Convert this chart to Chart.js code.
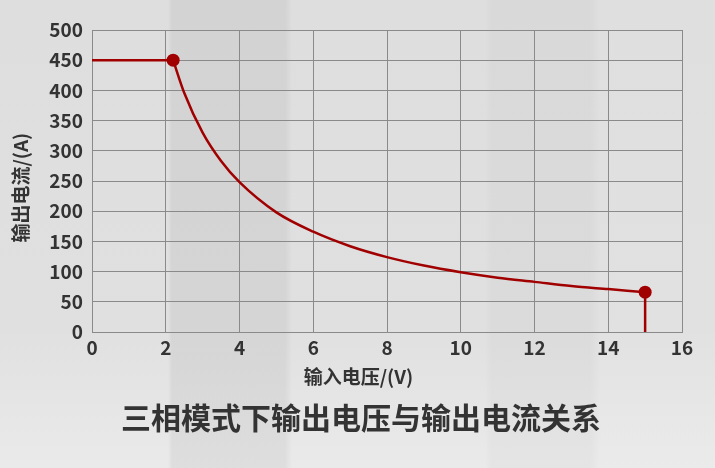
<!DOCTYPE html>
<html>
<head>
<meta charset="utf-8">
<script src="https://cdn.jsdelivr.net/npm/chart.js@4.4.1/dist/chart.umd.min.js"></script>
<style>
  html, body { margin: 0; padding: 0; }
  body {
    width: 715px; height: 468px; overflow: hidden;
    background:
      linear-gradient(90deg,
        rgba(255,255,255,0) 0px, rgba(255,255,255,0) 168px,
        rgba(0,0,0,0.05) 172px, rgba(0,0,0,0.05) 285px,
        rgba(255,255,255,0) 292px, rgba(255,255,255,0) 485px,
        rgba(0,0,0,0.025) 492px, rgba(0,0,0,0.025) 590px,
        rgba(255,255,255,0.04) 600px, rgba(255,255,255,0.04) 715px),
      linear-gradient(180deg, #dedede 0%, #e0e0e0 70%, #eaeaea 100%);
  }
  #wrap { position: relative; width: 715px; height: 468px; }
  canvas { display: block; }
</style>
</head>
<body>
<div id="wrap"><canvas id="ivChart" width="715" height="468"></canvas></div>
<script>
// values
var xTicks = [0, 2, 4, 6, 8, 10, 12, 14, 16];
var yTicks = [0, 50, 100, 150, 200, 250, 300, 350, 400, 450, 500];

// constant-current part
var flatX = [0, 2.2];
var flatY = [450, 450];

// constant-power part
var curveX = [2.2, 2.5, 3, 3.5, 4, 5, 6, 7, 8, 9, 10, 11, 12, 13, 14, 15];
var curveY = [450, 396, 330, 283, 248, 198, 166, 142, 124, 110, 99, 90, 83, 76, 71, 66];

// drop to zero
var dropX = [15, 15];
var dropY = [66, 0];

// knee points
var kneeX = [2.2, 15];
var kneeY = [450, 66];

var red = '#a10000';
var textColor = '#333333';
var fontFamily = '"Noto Sans CJK SC", "Noto Sans", sans-serif';

function toPoints(xs, ys) {
  return xs.map(function (x, i) { return { x: x, y: ys[i] }; });
}

var ctx = document.getElementById('ivChart').getContext('2d');

var ivChart = new Chart(ctx, {
  type: 'scatter',
  data: {
    datasets: [
      {
        data: toPoints(flatX, flatY),
        showLine: true,
        borderColor: red,
        borderWidth: 2.5,
        pointRadius: 0,
      },
      {
        data: toPoints(curveX, curveY),
        showLine: true,
        cubicInterpolationMode: 'monotone',
        borderColor: red,
        borderWidth: 2.5,
        pointRadius: 0,
      },
      {
        data: toPoints(dropX, dropY),
        showLine: true,
        borderColor: red,
        borderWidth: 2.5,
        pointRadius: 0,
      },
      {
        data: toPoints(kneeX, kneeY),
        showLine: false,
        pointRadius: 6.5,
        pointBackgroundColor: red,
        pointBorderColor: red,
        pointBorderWidth: 0,
      },
    ],
  },
  options: {
    responsive: false,
    animation: false,
    devicePixelRatio: 1,
    clip: false,
    // left padding pushes the bottom title to the reference centre
    layout: { padding: { top: 30, right: 33, left: 40, bottom: 0 } },
    scales: {
      x: {
        type: 'linear',
        min: 0,
        max: 16,
        afterBuildTicks: function (axis) {
          axis.ticks = xTicks.map(function (v) { return { value: v }; });
        },
        afterFit: function (axis) { axis.height = 60; },
        grid: { color: '#8a8a8a', lineWidth: 1, drawTicks: false },
        border: { color: '#8a8a8a', width: 1 },
        ticks: {
          color: textColor,
          padding: 4,
          maxRotation: 0,
          font: { family: fontFamily, size: 19, weight: 'bold' },
        },
        title: {
          display: true,
          // trailing spaces shift the label left like in the picture
          text: '输入电压/(V)\u3000\u3000\u3000',
          color: textColor,
          padding: { top: 0, bottom: 4 },
          font: { family: fontFamily, size: 19, weight: 'bold' },
        },
      },
      y: {
        type: 'linear',
        min: 0,
        max: 500,
        afterBuildTicks: function (axis) {
          axis.ticks = yTicks.map(function (v) { return { value: v }; });
        },
        afterFit: function (axis) { axis.width = 52; },
        grid: { color: '#8a8a8a', lineWidth: 1, drawTicks: false },
        border: { color: '#8a8a8a', width: 1 },
        ticks: {
          color: textColor,
          padding: 9,
          font: { family: fontFamily, size: 19, weight: 'bold' },
        },
        title: {
          display: true,
          text: '输出电流/(A)\u2002\u2009',
          color: textColor,
          padding: { top: -31, bottom: 0 },
          font: { family: fontFamily, size: 19, weight: 'bold' },
        },
      },
    },
    plugins: {
      legend: { display: false },
      tooltip: { enabled: false },
      title: {
        display: true,
        position: 'bottom',
        text: '三相模式下输出电压与输出电流关系',
        color: textColor,
        padding: { top: 8, bottom: 32 },
        font: { family: fontFamily, size: 30, weight: 'bold' },
      },
    },
  },
});
</script>
</body>
</html>
